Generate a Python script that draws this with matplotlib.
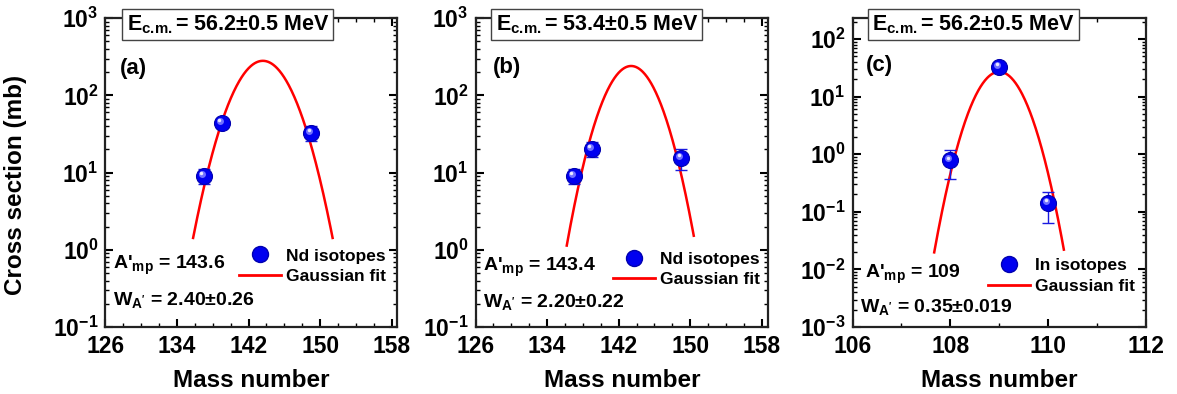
import numpy as np
import matplotlib
matplotlib.use("Agg")
import matplotlib.pyplot as plt
from matplotlib.lines import Line2D
from matplotlib.transforms import offset_copy
from matplotlib.ticker import MultipleLocator, LogLocator, NullFormatter

plt.rcParams["font.family"] = ["Liberation Sans", "DejaVu Sans"]
plt.rcParams["font.weight"] = "bold"
plt.rcParams["mathtext.fontset"] = "custom"
plt.rcParams["mathtext.rm"] = "Liberation Sans:bold"
plt.rcParams["mathtext.bf"] = "Liberation Sans:bold"
plt.rcParams["mathtext.it"] = "Liberation Sans:bold:italic"

# measured cross sections (mb)
mass_a = [137, 139, 149]
cs_a = [9.1, 44, 33]
err_a = [1.9, 6.5, 7.0]

mass_b = [137, 139, 149]
cs_b = [9.1, 20.4, 15.6]
err_b = [2.0, 4.7, 4.7]

mass_c = [108, 109, 110]
cs_c = [0.78, 33, 0.145]
err_c = [0.41, 4.0, 0.08]

# gaussian fit parameters: centre, width, height, drawn range
fit_a = (143.6, 2.40, 280, 135.8, 151.4)
fit_b = (143.4, 2.20, 240, 136.2, 150.4)
fit_c = (109.0, 0.35, 27, 107.67, 110.32)

energies = ["56.2", "53.4", "56.2"]
tags = ["(a)", "(b)", "(c)"]
species = ["Nd isotopes", "Nd isotopes", "In isotopes"]
amp_txt = ["143.6", "143.4", "109"]
width_txt = ["2.40\u00b10.26", "2.20\u00b10.22", "0.35\u00b10.019"]

BLUE = "#0000f0"
RED = "#ff0000"

fig = plt.figure(figsize=(11.77, 3.94), dpi=100)
lefts = [0.0896, 0.404, 0.7243]
widths = [0.2477, 0.2485, 0.2494]
axes = [fig.add_axes([l, 0.170, w, 0.784]) for l, w in zip(lefts, widths)]

panels = [
    (mass_a, cs_a, err_a, fit_a, (126, 158.6), (0.1, 1000), 8, 2, 126),
    (mass_b, cs_b, err_b, fit_b, (126, 158.7), (0.1, 1000), 8, 2, 126),
    (mass_c, cs_c, err_c, fit_c, (106, 112), (1e-3, 230), 2, 1, 0),
]
leg_pos = [(0.458, 0.197), (0.47, 0.186), (0.462, 0.165)]
amp_pos = [(0.026, 0.20), (0.026, 0.194), (0.042, 0.17)]
wid_pos = [(0.026, 0.087), (0.026, 0.081), (0.026, 0.065)]
box_x = [0.42, 0.415, 0.412]
tag_pos = [(0.05, 0.838), (0.06, 0.84), (0.046, 0.848)]


def sphere(ax, x, y):
    ax.plot(x, y, "o", ms=11.5, mfc=BLUE, mec="#0000b0", mew=0.8, zorder=5)
    hl = offset_copy(ax.transData, fig=fig, x=-2, y=2, units="dots")
    ax.plot(x, y, "o", ms=5, mfc="#7070ff", mec="none", transform=hl, zorder=6)
    hl2 = offset_copy(ax.transData, fig=fig, x=-2.5, y=2.5, units="dots")
    ax.plot(x, y, "o", ms=2.5, mfc="#e8e8ff", mec="none", transform=hl2, zorder=7)


for i, ax in enumerate(axes):
    mass, cs, err, fit, xl, yl, maj, mnr, off = panels[i]
    ax.set_yscale("log")
    ax.set_xlim(*xl)
    ax.set_ylim(*yl)

    mu, sig, amp, x0, x1 = fit
    xs = np.linspace(x0, x1, 300)
    ax.plot(xs, amp * np.exp(-(xs - mu) ** 2 / (2 * sig ** 2)), color=RED, lw=1.8, zorder=3)

    ax.errorbar(mass, cs, yerr=err, fmt="none", ecolor="#1a1ae0", elinewidth=1,
                capsize=4, capthick=1, zorder=4)
    sphere(ax, mass, cs)

    handles = [Line2D([], [], ls="none", marker="o", ms=11.5, mfc=BLUE, mec="#0000b0"),
               Line2D([], [], color=RED, lw=2)]
    ax.legend(handles, [species[i], "Gaussian fit"], loc="center left",
              bbox_to_anchor=leg_pos[i], frameon=False, fontsize=12.5,
              handlelength=2.4, handletextpad=0.3, labelspacing=0.3,
              borderpad=0, borderaxespad=0)

    ax.text(*amp_pos[i], "A'$_{\\mathrm{mp}}$ = " + amp_txt[i], transform=ax.transAxes,
            fontsize=14, va="center", ha="left")
    ax.text(*wid_pos[i], "W$_{\\mathrm{A'}}$ = " + width_txt[i], transform=ax.transAxes,
            fontsize=14, va="center", ha="left")
    ax.text(*tag_pos[i], tags[i], transform=ax.transAxes, fontsize=16, va="center", ha="left")
    ax.text(box_x[i], 0.979, "E$_{\\mathrm{c.\\!m.}}$= " + energies[i] + "\u00b10.5 MeV",
            transform=ax.transAxes, fontsize=15.5, va="center", ha="center", clip_on=False,
            zorder=10,
            bbox=dict(boxstyle="square,pad=0.2", fc="white", ec="#444444", lw=1))

    ax.xaxis.set_major_locator(MultipleLocator(maj, offset=off))
    ax.xaxis.set_minor_locator(MultipleLocator(mnr))
    ax.yaxis.set_major_locator(LogLocator(base=10, numticks=20))
    ax.yaxis.set_minor_locator(LogLocator(base=10, subs=np.arange(2, 10), numticks=20))
    ax.yaxis.set_minor_formatter(NullFormatter())
    ax.tick_params(which="both", direction="in", top=True, right=True, labelsize=16.5)
    ax.tick_params(which="major", length=6, width=1.5)
    ax.tick_params(which="minor", length=3, width=1)
    ax.tick_params(axis="y", pad=5)
    ax.tick_params(axis="x", pad=6)
    for s in ax.spines.values():
        s.set_linewidth(1.6)
        s.set_color("#222222")
    ax.set_xlabel("Mass number", fontsize=17.5, fontweight="bold")
    ax.xaxis.set_label_coords(0.5, -0.135)

axes[0].set_ylabel("Cross section (mb)", fontsize=17.5, fontweight="bold")
axes[0].yaxis.set_label_coords(-0.27, 0.46)

fig.savefig("out.png", dpi=100)
